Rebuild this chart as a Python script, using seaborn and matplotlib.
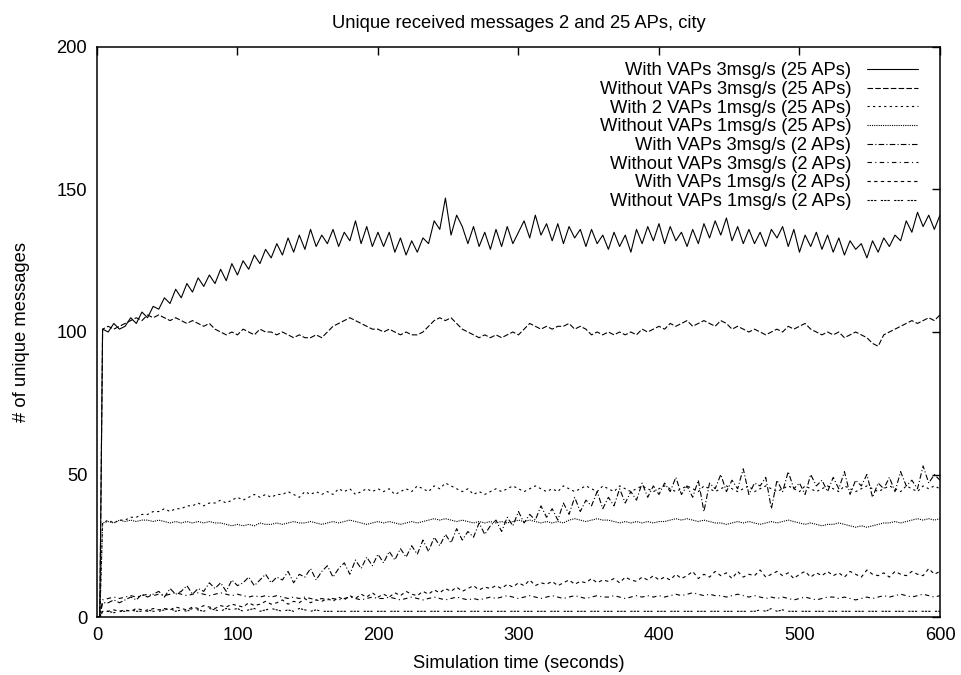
import matplotlib
matplotlib.use("Agg")
import matplotlib.pyplot as plt
import seaborn as sns

# sampling times (seconds); every series starts at 0 and jumps at t~3
seconds = [0, 2] + list(range(4, 601, 4))

with_vaps_3_25 = [0, 0,
    101, 100, 103, 101, 102, 105, 103, 107, 105, 109,
    108, 112, 110, 115, 112, 117, 114, 119, 116, 120,
    117, 122, 118, 124, 120, 125, 122, 127, 124, 129,
    126, 131, 127, 133, 128, 134, 129, 136, 130, 134,
    131, 136, 130, 135, 132, 139, 131, 137, 130, 135,
    130, 135, 128, 133, 127, 132, 128, 133, 131, 139,
    136, 147, 134, 141, 137, 131, 137, 130, 135, 129,
    136, 130, 137, 131, 135, 139, 133, 141, 134, 138,
    132, 138, 131, 137, 133, 136, 130, 136, 131, 134,
    129, 135, 130, 134, 128, 136, 131, 137, 132, 138,
    131, 137, 132, 135, 130, 136, 131, 138, 133, 139,
    134, 140, 132, 137, 131, 136, 131, 135, 130, 136,
    133, 137, 130, 136, 128, 134, 130, 135, 129, 134,
    128, 133, 127, 132, 129, 131, 126, 132, 128, 133,
    130, 134, 132, 139, 135, 142, 137, 141, 136, 141]

without_vaps_3_25 = [0, 0,
    101, 102, 101, 102, 103, 104, 105, 104, 106, 105,
    106, 105, 104, 105, 104, 103, 104, 103, 102, 103,
    101, 100, 99, 100, 99, 101, 100, 99, 101, 100,
    100, 99, 100, 99, 98, 99, 98, 98, 99, 98,
    100, 102, 103, 104, 105, 104, 103, 102, 101, 101,
    100, 101, 100, 99, 100, 99, 99, 100, 102, 104,
    105, 104, 105, 103, 101, 100, 99, 98, 99, 98,
    99, 98, 99, 100, 99, 101, 103, 102, 101, 102,
    101, 102, 102, 103, 101, 102, 101, 99, 100, 99,
    100, 99, 100, 99, 100, 99, 101, 100, 101, 102,
    101, 103, 102, 103, 104, 102, 103, 104, 103, 102,
    104, 103, 101, 102, 101, 100, 101, 100, 99, 100,
    101, 100, 102, 101, 102, 103, 101, 100, 99, 100,
    99, 100, 98, 99, 100, 99, 98, 96, 95, 99,
    100, 101, 102, 103, 104, 103, 104, 105, 104, 106]

with2_vaps_1_25 = [0, 0,
    33, 34, 33, 34, 34, 35, 35, 36, 36, 37,
    37, 38, 37, 38, 38, 39, 39, 40, 39, 40,
    40, 41, 40, 41, 42, 41, 42, 43, 42, 43,
    42, 43, 43, 44, 43, 42, 44, 43, 44, 43,
    44, 43, 45, 44, 45, 43, 44, 45, 44, 45,
    44, 45, 43, 44, 45, 44, 46, 45, 44, 46,
    45, 47, 46, 45, 44, 45, 43, 44, 43, 44,
    45, 44, 45, 46, 45, 44, 45, 46, 45, 44,
    45, 44, 46, 45, 44, 45, 46, 45, 44, 46,
    45, 44, 46, 45, 44, 45, 46, 45, 44, 45,
    46, 45, 44, 45, 46, 45, 44, 46, 45, 44,
    45, 46, 45, 44, 45, 46, 44, 45, 46, 45,
    44, 45, 46, 45, 44, 46, 45, 44, 45, 46,
    45, 44, 46, 45, 44, 45, 46, 45, 44, 45,
    46, 45, 44, 46, 45, 44, 46, 45, 46, 45]

without_vaps_1_25 = [0, 0,
    33, 33.5, 33, 34, 33.5, 34, 33.5, 34, 34, 33.5,
    34, 33.5, 33, 33.5, 33, 33.5, 33, 33.5, 33, 33.5,
    33, 33, 32.5, 32, 32.5, 32, 32.5, 32, 33, 32.5,
    32.5, 33, 32.5, 33, 33.5, 33, 33, 33.5, 33, 32.5,
    33, 33.5, 33, 33.5, 34, 33.5, 33, 32.5, 33, 33.5,
    33, 33.5, 33, 32.5, 33, 33.5, 33, 33.5, 34, 34.5,
    34, 34.5, 34, 33.5, 34, 33.5, 33, 33.5, 33, 33.5,
    33, 33.5, 33, 33.5, 34, 33.5, 34, 33.5, 33, 33.5,
    33, 33.5, 33, 34, 34.5, 34, 33.5, 34, 34.5, 34,
    34, 33.5, 33, 33.5, 33, 33.5, 33, 33.5, 33, 33.5,
    33.5, 34, 34.5, 34, 34.5, 34, 33.5, 34, 33.5, 33,
    33, 32.5, 33, 33.5, 33, 33.5, 33, 32.5, 33, 33.5,
    33, 33.5, 34, 33.5, 33, 32.5, 33, 32.5, 32, 32.5,
    32.5, 33, 32.5, 32, 31.5, 32, 31.5, 32, 32.5, 33,
    33, 33.5, 33, 33.5, 34, 34.5, 34, 34.5, 34, 34.5]

with_vaps_3_2 = [0, 0,
    5, 5, 6, 5, 6, 7, 6, 8, 7, 8,
    9, 7, 10, 8, 9, 11, 8, 10, 9, 12,
    10, 12, 9, 13, 11, 12, 14, 11, 13, 15,
    12, 14, 13, 16, 12, 15, 14, 17, 13, 16,
    18, 14, 17, 19, 15, 20, 17, 21, 18, 22,
    19, 23, 20, 24, 21, 25, 22, 27, 23, 28,
    25, 29, 26, 31, 27, 30, 28, 33, 29, 32,
    34, 30, 35, 32, 37, 33, 36, 34, 39, 35,
    38, 34, 40, 36, 42, 37, 41, 39, 44, 38,
    42, 39, 45, 40, 44, 41, 47, 42, 46, 43,
    47, 44, 49, 43, 46, 42, 48, 37, 47, 45,
    50, 44, 48, 45, 52, 43, 47, 46, 49, 38,
    48, 44, 51, 45, 47, 43, 50, 46, 48, 44,
    49, 45, 51, 43, 48, 46, 50, 42, 47, 45,
    49, 44, 51, 46, 48, 45, 53, 47, 50, 48]

without_vaps_3_2 = [0, 0,
    6, 6.5, 7, 6.5, 7, 7.5, 7, 7.5, 8, 7.5,
    8, 7.5, 8, 8.5, 8, 7.5, 8, 8.5, 8, 7.5,
    8, 8.5, 8, 7.5, 8, 7.5, 7, 7.5, 7, 7.5,
    7, 7.5, 7, 6.5, 7, 6.5, 7, 6.5, 6, 6.5,
    6, 6.5, 6, 6.5, 7, 6.5, 6, 6.5, 7, 6.5,
    6.5, 7, 6.5, 6, 6.5, 7, 6.5, 6, 6.5, 7,
    6.5, 6, 6.5, 7, 6.5, 6, 6.5, 6, 6.5, 7,
    6.5, 7, 7.5, 7, 6.5, 7, 7.5, 7, 6.5, 7,
    7.5, 7, 6.5, 7, 7.5, 7, 6.5, 7, 7.5, 7,
    7, 7.5, 7, 6.5, 7, 7.5, 7, 7.5, 7, 7.5,
    7, 7.5, 8, 7.5, 8, 8.5, 8, 7.5, 8, 7.5,
    7.5, 7, 7.5, 8, 7.5, 7, 7.5, 7, 6.5, 7,
    6.5, 7, 6.5, 6, 6.5, 7, 6.5, 6, 6.5, 7,
    7, 6.5, 7, 6.5, 6, 6.5, 7, 6.5, 7, 7.5,
    7, 7.5, 8, 7.5, 7, 7.5, 8, 7.5, 7, 7.5]

with_vaps_1_2 = [0, 0,
    2, 2, 2.5, 2, 2.5, 2, 3, 2.5, 2, 3,
    2.5, 3, 2.5, 3.5, 3, 2.5, 3.5, 3, 4, 3.5,
    3, 4, 3.5, 4.5, 4, 3.5, 5, 4, 4.5, 5.5,
    4.5, 5, 6, 4.5, 5.5, 5, 6.5, 5, 6, 5.5,
    6.5, 5.5, 7, 6, 7.5, 6.5, 8, 7, 8.5, 7,
    8, 7, 8.5, 7.5, 9, 8, 7.5, 9, 8, 9.5,
    8.5, 10, 9, 10.5, 9, 10, 11, 9.5, 10.5, 10,
    11, 10, 11.5, 10.5, 12, 11, 13, 11, 12, 11.5,
    12.5, 11, 12, 13, 11.5, 12.5, 12, 13.5, 12, 13,
    12.5, 13.5, 12, 14, 13, 12.5, 14, 13, 14.5, 13,
    14, 13, 15, 13.5, 14.5, 16, 13.5, 15, 14, 16,
    14.5, 15.5, 13.5, 16, 14, 15, 14.5, 16.5, 14, 15,
    16, 14.5, 15.5, 13.5, 15, 16, 14, 15.5, 14.5, 16,
    14.5, 15.5, 14, 16, 15, 14, 16.5, 15, 14.5, 15.5,
    14, 16, 15, 14.5, 16, 15, 14.5, 17, 15, 16]

without_vaps_1_2 = [0, 0,
    2, 2, 1.5, 2, 2, 2.5, 2, 2, 2.5, 2,
    2, 2.5, 3, 2, 2.5, 2, 3, 2.5, 2, 3,
    2.5, 2, 3, 2.5, 3, 2, 2.5, 3, 2, 2.5,
    3, 2.5, 2, 2.5, 2, 3, 2.5, 2, 2.5, 2,
    2, 2, 2, 2, 2, 2, 2, 2, 2, 2,
    2, 2, 2, 2, 2, 2, 2, 2, 2, 2,
    2, 2, 2, 2, 2, 2, 2, 2, 2, 2,
    2, 2, 2, 2, 2, 2, 2, 2, 2, 2,
    2, 2, 2, 2, 2, 2, 2, 2, 2, 2,
    2, 2, 2, 2, 2, 2, 2, 2, 2, 2,
    2, 2, 2, 2, 2, 2, 2, 2, 2, 2,
    2, 2, 2, 2, 2, 2, 2, 2.5, 2, 3,
    2, 2.5, 2, 2, 2, 2, 2, 2, 2, 2,
    2, 2, 2, 2, 2, 2, 2, 2, 2, 2,
    2, 2, 2, 2, 2, 2, 2, 2, 2, 2]

labels = [
    "With VAPs 3msg/s (25 APs)",
    "Without VAPs 3msg/s (25 APs)",
    "With 2 VAPs 1msg/s (25 APs)",
    "Without VAPs 1msg/s (25 APs)",
    "With VAPs 3msg/s (2 APs)",
    "Without VAPs 3msg/s (2 APs)",
    "With VAPs 1msg/s (2 APs)",
    "Without VAPs 1msg/s (2 APs)",
]
series = [with_vaps_3_25, without_vaps_3_25, with2_vaps_1_25, without_vaps_1_25,
          with_vaps_3_2, without_vaps_3_2, with_vaps_1_2, without_vaps_1_2]

# gnuplot-like dash patterns
styles = ["-", (0, (5, 2)), (0, (2, 3)), (0, (1, 1)),
          (0, (5, 2, 1, 2)), (0, (4, 3, 1, 3)), (0, (3, 3)), (0, (2, 1, 2, 1, 2, 4))]

FS = 13.2

sns.set_theme(style="white")
plt.rcParams["font.family"] = ["Liberation Sans", "DejaVu Sans"]
plt.rcParams["text.color"] = "black"
plt.rcParams["axes.labelcolor"] = "black"

fig = plt.figure(figsize=(9.62, 6.75), dpi=100)
ax = fig.add_axes([0.1008, 0.0859, 0.8763, 0.8445])

for vals, lab, ls in zip(series, labels, styles):
    sns.lineplot(x=seconds, y=vals, ax=ax, color="black", linewidth=0.8, label=lab)
    ax.lines[-1].set_linestyle(ls)

ax.set_xlim(0, 600)
ax.set_ylim(0, 200)
ax.set_xticks([0, 100, 200, 300, 400, 500, 600])
ax.set_yticks([0, 50, 100, 150, 200])
ax.tick_params(direction="in", top=True, right=True, length=6, width=1.0,
               labelsize=FS, pad=7, colors="black")
for sp in ax.spines.values():
    sp.set_color("black")
    sp.set_linewidth(1.1)

ax.set_title("Unique received messages 2 and 25 APs, city", fontsize=FS, pad=14,
             color="black")
ax.set_xlabel("Simulation time (seconds)", fontsize=FS, labelpad=8)
ax.set_ylabel("# of unique messages", fontsize=FS, labelpad=19)

leg = ax.legend(loc="upper right", bbox_to_anchor=(0.974, 0.973), frameon=False,
                markerfirst=False, fontsize=FS, handlelength=2.8, handletextpad=0.85,
                labelspacing=0.09, borderaxespad=0, borderpad=0)
for t in leg.get_texts():
    t.set_color("black")

fig.savefig("out.png", dpi=100)
